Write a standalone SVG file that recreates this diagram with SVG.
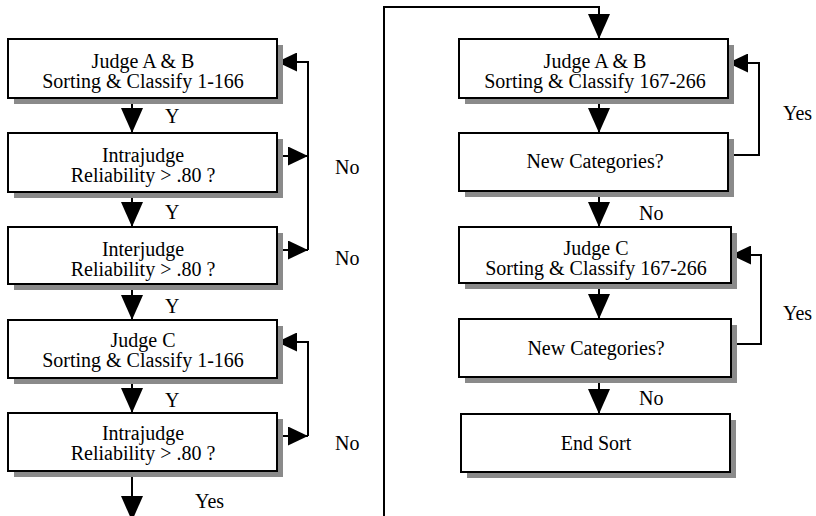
<svg xmlns="http://www.w3.org/2000/svg" width="816" height="516" viewBox="0 0 816 516">
<defs>
<style>
.box{fill:#fff;stroke:#000;stroke-width:2}
.sh{fill:#8a8a8a}
.t{font-family:"Liberation Serif","Times New Roman",serif;font-size:20px;fill:#000;text-anchor:middle}
.l{font-family:"Liberation Serif","Times New Roman",serif;font-size:20px;fill:#000}
.c{fill:none;stroke:#000;stroke-width:2}
.v{marker-end:url(#av)}
.h{marker-end:url(#ah)}
</style>
<marker id="av" markerUnits="userSpaceOnUse" markerWidth="25" markerHeight="22" viewBox="0 0 25 22" refX="25" refY="11" orient="auto">
<path d="M0,0 L25,11 L0,22 z" fill="#000"/>
</marker>
<marker id="ah" markerUnits="userSpaceOnUse" markerWidth="20" markerHeight="19" viewBox="0 0 20 19" refX="20" refY="9.5" orient="auto">
<path d="M0,0 L20,9.5 L0,19 z" fill="#000"/>
</marker>
</defs>
<rect width="816" height="516" fill="#fff"/>

<g id="connectors">
<path class="c v" d="M132,98 V133"/>
<path class="c v" d="M132,192 V227"/>
<path class="c v" d="M132,284 V320"/>
<path class="c v" d="M132,378 V413"/>
<path class="c v" d="M132,471 V521"/>
<path class="c h" d="M277,156 H308"/>
<path class="c h" d="M277,250 H308"/>
<path class="c h" d="M308,250 V62 H277"/>
<path class="c h" d="M277,436 H308"/>
<path class="c h" d="M308,436 V342 H277"/>
<path class="c v" d="M384,516 V7 H599 V39"/>
<path class="c v" d="M599,98 V133"/>
<path class="c v" d="M599,191 V227"/>
<path class="c v" d="M599,283 V319"/>
<path class="c v" d="M599,377 V414"/>
<path class="c h" d="M728,155 H759 V63 H728"/>
<path class="c h" d="M731,344 H761 V255 H731"/>
<text class="l" x="165" y="123">Y</text>
<text class="l" x="165" y="219">Y</text>
<text class="l" x="165" y="313">Y</text>
<text class="l" x="165" y="407">Y</text>
<text class="l" x="335" y="174">No</text>
<text class="l" x="335" y="265">No</text>
<text class="l" x="335" y="450">No</text>
<text class="l" x="195" y="508">Yes</text>
<text class="l" x="783" y="120">Yes</text>
<text class="l" x="783" y="320">Yes</text>
<text class="l" x="639" y="220">No</text>
<text class="l" x="639" y="405">No</text>
</g>

<g id="n1">
<rect class="sh" x="14" y="45" width="269" height="59"/>
<rect class="box" x="8" y="39" width="269" height="59"/>
<text class="t" x="143" y="68">Judge A &amp; B</text>
<text class="t" x="143" y="88">Sorting &amp; Classify 1-166</text>
</g>
<g id="n2">
<rect class="sh" x="14" y="139" width="269" height="59"/>
<rect class="box" x="8" y="133" width="269" height="59"/>
<text class="t" x="143" y="162">Intrajudge</text>
<text class="t" x="143" y="182">Reliability &gt; .80 ?</text>
</g>
<g id="n3">
<rect class="sh" x="14" y="233" width="269" height="57"/>
<rect class="box" x="8" y="227" width="269" height="57"/>
<text class="t" x="143" y="256">Interjudge</text>
<text class="t" x="143" y="276">Reliability &gt; .80 ?</text>
</g>
<g id="n4">
<rect class="sh" x="14" y="326" width="269" height="58"/>
<rect class="box" x="8" y="320" width="269" height="58"/>
<text class="t" x="143" y="347">Judge C</text>
<text class="t" x="143" y="367">Sorting &amp; Classify 1-166</text>
</g>
<g id="n5">
<rect class="sh" x="14" y="419" width="269" height="58"/>
<rect class="box" x="8" y="413" width="269" height="58"/>
<text class="t" x="143" y="440">Intrajudge</text>
<text class="t" x="143" y="460">Reliability &gt; .80 ?</text>
</g>

<g id="r1">
<rect class="sh" x="465" y="45" width="269" height="59"/>
<rect class="box" x="459" y="39" width="269" height="59"/>
<text class="t" x="595" y="68">Judge A &amp; B</text>
<text class="t" x="595" y="88">Sorting &amp; Classify 167-266</text>
</g>
<g id="r2">
<rect class="sh" x="465" y="139" width="269" height="58"/>
<rect class="box" x="459" y="133" width="269" height="58"/>
<text class="t" x="595" y="168">New Categories?</text>
</g>
<g id="r3">
<rect class="sh" x="465" y="233" width="272" height="56"/>
<rect class="box" x="459" y="227" width="272" height="56"/>
<text class="t" x="596" y="255">Judge C</text>
<text class="t" x="596" y="275">Sorting &amp; Classify 167-266</text>
</g>
<g id="r4">
<rect class="sh" x="465" y="325" width="272" height="58"/>
<rect class="box" x="459" y="319" width="272" height="58"/>
<text class="t" x="596" y="355">New Categories?</text>
</g>
<g id="r5">
<rect class="sh" x="467" y="420" width="269" height="58"/>
<rect class="box" x="461" y="414" width="269" height="58"/>
<text class="t" x="596" y="450">End Sort</text>
</g>
</svg>
